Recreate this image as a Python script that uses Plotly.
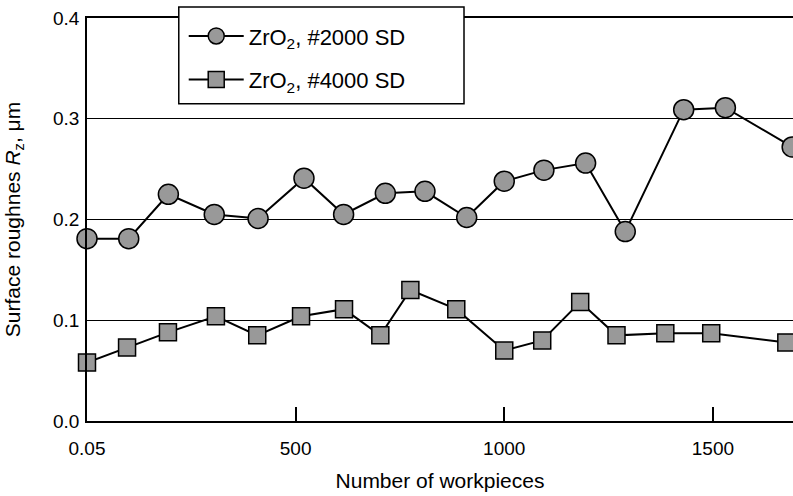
import plotly.graph_objects as go

# Data
x_2000 = [0, 100, 195, 305, 410, 520, 615, 715, 810, 910, 1000, 1095, 1195, 1290, 1430, 1530, 1690]
rz_2000 = [0.181, 0.181, 0.225, 0.205, 0.201, 0.241, 0.205, 0.226, 0.228, 0.202, 0.238, 0.249,
           0.256, 0.188, 0.309, 0.311, 0.272]
x_4000 = [0, 96, 194, 309, 408, 513, 616, 703, 775, 885, 1000, 1091, 1182, 1269, 1386, 1496, 1676]
rz_4000 = [0.058, 0.073, 0.088, 0.104, 0.085, 0.104, 0.111, 0.085, 0.130, 0.111, 0.070, 0.080,
           0.118, 0.085, 0.087, 0.087, 0.078]

x_tickvals = [0, 500, 1000, 1500]
x_ticktext = ["0.05", "500", "1000", "1500"]
y_tickvals = [0.0, 0.1, 0.2, 0.3, 0.4]

names = ["ZrO<sub>2</sub>, #2000 SD", "ZrO<sub>2</sub>, #4000 SD"]

FONT = "Liberation Sans, Arial, Helvetica, sans-serif"
fill = "#999999"

fig = go.Figure()
fig.add_trace(go.Scatter(
    x=x_2000, y=rz_2000, mode="lines+markers", name=names[0], legendgroup="a",
    line=dict(color="black", width=2),
    marker=dict(symbol="circle", size=20, color=fill, line=dict(color="black", width=1.5)),
    cliponaxis=False,
))
fig.add_trace(go.Scatter(
    x=x_4000, y=rz_4000, mode="lines+markers", name=names[1], legendgroup="b",
    line=dict(color="black", width=2),
    marker=dict(symbol="square", size=17, color=fill, line=dict(color="black", width=1.5)),
    cliponaxis=False,
))

# legend frame
fig.add_shape(type="rect", xref="paper", yref="paper", x0=0.130, x1=0.534, y0=0.787, y1=1.027,
              fillcolor="white", line=dict(color="black", width=1.5), layer="above")

fig.update_layout(
    width=793, height=496,
    margin=dict(l=87, r=0, t=18, b=75, autoexpand=False),
    paper_bgcolor="white", plot_bgcolor="white",
    font=dict(family=FONT, size=19, color="black"),
    showlegend=True,
    legend=dict(
        x=0.137, y=1.007, xanchor="left", yanchor="top",
        bgcolor="rgba(0,0,0,0)", borderwidth=0,
        font=dict(size=22), tracegroupgap=12, traceorder="grouped",
        itemwidth=55,
    ),
    xaxis=dict(
        range=[0, 1692], tickvals=x_tickvals, ticktext=x_ticktext,
        showline=True, linecolor="black", linewidth=1.5, mirror=True,
        ticks="inside", ticklen=14, tickwidth=1.5, tickcolor="black",
        showgrid=False, zeroline=False, ticklabelstandoff=9, automargin=False,
        title=dict(text="Number of workpieces", font=dict(size=21), standoff=16),
    ),
    yaxis=dict(
        range=[0, 0.4], tickvals=y_tickvals, tickformat=".1f",
        showline=True, linecolor="black", linewidth=1.5, mirror=True,
        ticks="", showgrid=True, gridcolor="black", gridwidth=1.3, zeroline=False,
        ticklabelstandoff=2, automargin=False,
        title=dict(text="Surface roughnes <i>R</i><sub>z</sub>, \u03bcm", font=dict(size=21), standoff=27),
    ),
)

fig.write_html("out.html", config={"displayModeBar": False},
               post_script="document.body.style.margin='0';")
